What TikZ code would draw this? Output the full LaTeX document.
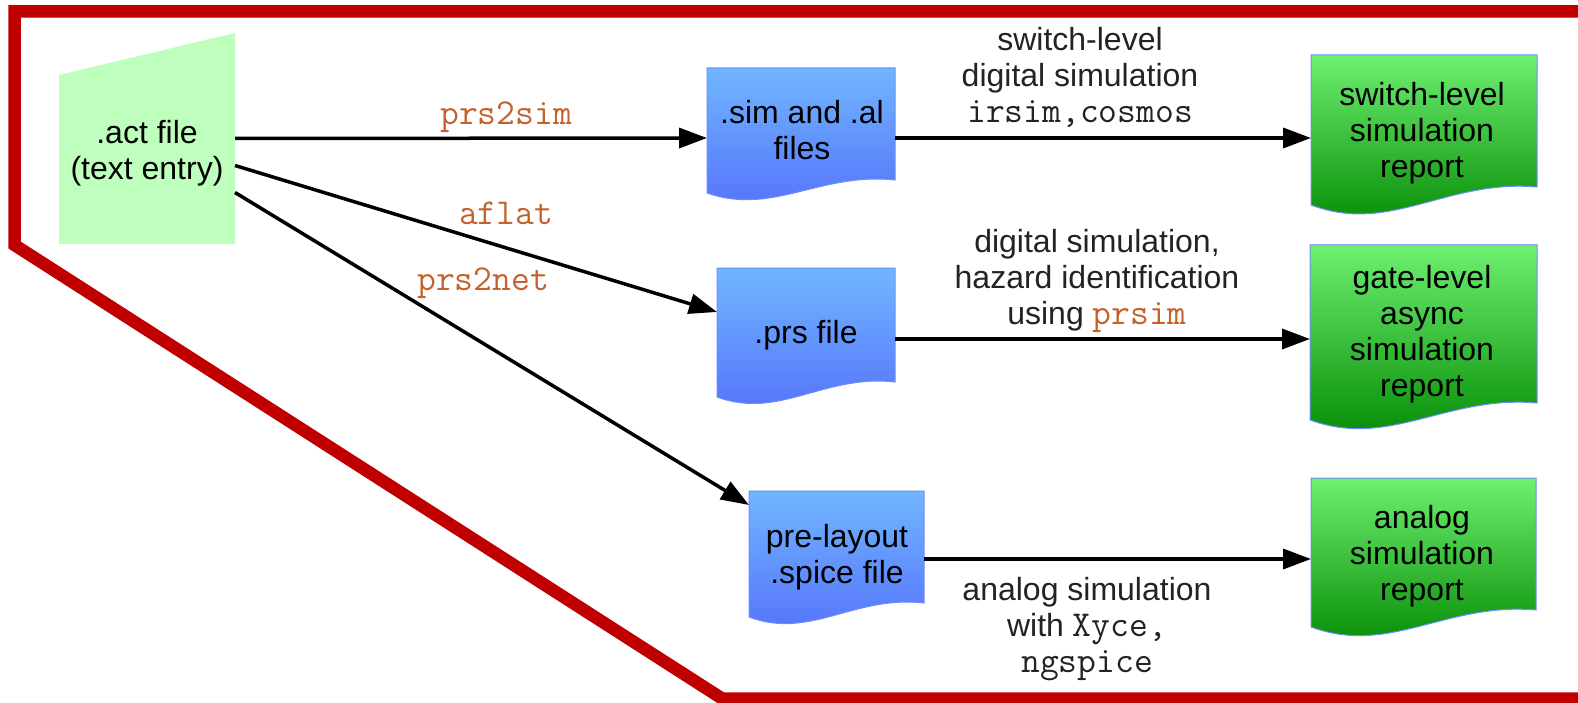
\documentclass[tikz,border=0pt]{standalone}
\usepackage{fontspec}
\setmainfont{Liberation Sans}
\usetikzlibrary{arrows.meta}

\definecolor{frame}{RGB}{192,0,0}
\definecolor{actfill}{RGB}{190,255,190}
\definecolor{bluetop}{RGB}{112,182,255}
\definecolor{bluebot}{RGB}{84,112,250}
\definecolor{greentop}{RGB}{110,240,112}
\definecolor{greenbot}{RGB}{0,134,0}
\definecolor{edgeblue}{RGB}{110,140,255}
\definecolor{tool}{RGB}{196,98,45}
\definecolor{note}{RGB}{35,35,35}

% program names in a typewriter face
\newcommand\code[1]{{\fontsize{36.5}{36}\selectfont\ttfamily #1}}

% document shape: left, top, right, right end of the wavy bottom,
% drop of its left end, depth of the wave, style
\newcommand\docshape[7]{%
  \path[#7] (#1,#2) -- (#3,#2) -- (#3,#4)
    .. controls ({#1+0.6*(#3-#1)},{#4-8}) and ({#1+0.35*(#3-#1)},{#4+#6})
    .. (#1,{#4+#5}) -- cycle;}

% text nodes are placed by the baseline of their last line
\tikzset{
  holder/.style={rectangle, draw=none, inner sep=0pt, outer sep=0pt},
  flow/.style={line width=3.5pt, -{Triangle[length=28pt,width=20pt]}},
  boxtext/.style={font=\fontsize{32}{36}\selectfont, align=center, anchor=base,
    text=black, inner sep=0pt},
  notetext/.style={boxtext, text=note},
  tooltext/.style={font=\fontsize{36.5}{36}\selectfont\ttfamily, text=tool,
    anchor=base, inner sep=0pt},
  bluedoc/.style={top color=bluetop, bottom color=bluebot, draw=edgeblue, line width=1pt},
  greendoc/.style={top color=greentop, bottom color=greenbot, draw=edgeblue, line width=1pt},
}

\begin{document}
\begin{tikzpicture}[x=1pt, y=-1pt]
\useasboundingbox (0,0) rectangle (1578,703);

% red frame, open on the right
\draw[frame, line width=12.5pt, line join=miter]
  (1600,11.5) -- (14.5,11.5) -- (14.5,245) -- (722,698.5) -- (1600,698.5);

% source file
\fill[actfill] (59,75) -- (235,33) -- (235,244) -- (59,244) -- cycle;
\node[holder, minimum width=176pt, minimum height=211pt] (act) at (147,138.5) {};

% generated files
\docshape{707}{68}{895}{180}{13}{36}{bluedoc}
\docshape{717}{268}{895}{382}{15}{38}{bluedoc}
\docshape{749}{491}{924}{603}{14}{37}{bluedoc}
\node[holder, minimum width=188pt, minimum height=140pt] (sim) at (801,138) {};
\node[holder, minimum width=178pt, minimum height=142pt] (prs) at (806,339) {};
\node[holder, minimum width=175pt, minimum height=136pt] (spice) at (836.5,559) {};

% reports
\docshape{1311}{55}{1537}{187}{18}{48}{greendoc}
\docshape{1310}{245}{1537}{403}{17}{46}{greendoc}
\docshape{1311}{478}{1536}{610}{17}{46}{greendoc}
\node[holder, minimum width=226pt, minimum height=166pt] (switch) at (1424,138) {};
\node[holder, minimum width=227pt, minimum height=188pt] (gate) at (1423.5,339) {};
\node[holder, minimum width=225pt, minimum height=162pt] (analog) at (1423.5,559) {};

% connectors
\draw[flow] (act.east) -- (sim.west);
\draw[flow] ([yshift=-27pt]act.east) -- ([yshift=27pt]prs.west);
\draw[flow] ([yshift=-54pt]act.east) -- ([yshift=-14pt]spice.north west);
\draw[flow] (sim.east) -- (switch.west);
\draw[flow] (prs.east) -- (gate.west);
\draw[flow] (spice.east) -- (analog.west);

% box texts
\node[boxtext] (act-text) at (147,180) {.act file\\(text entry)};
\node[boxtext] (sim-text) at (802,160) {.sim and .al\\files};
\node[boxtext] (prs-text) at (806,343) {.prs file};
\node[boxtext] (spice-text) at (837,583) {pre-layout\\.spice file};
\node[boxtext] (switch-text) at (1422,178) {switch-level\\simulation\\report};
\node[boxtext] (gate-text) at (1422,396) {gate-level\\async\\simulation\\report};
\node[boxtext] (analog-text) at (1422,600) {analog\\simulation\\report};

% tool names on the connectors
\node[tooltext] (prs2sim) at (506,125) {prs2sim};
\node[tooltext] (aflat) at (506,225) {aflat};
\node[tooltext] (prs2net) at (483,290) {prs2net};

% notes on the simulation steps
\node[notetext] (note-switch) at (1080,123)
  {switch-level\\digital simulation\\\code{irsim,cosmos}};
\node[notetext] (note-gate) at (1097,324)
  {digital simulation,\\hazard identification\\using \textcolor{tool}{\code{prsim}}};
\node[notetext] (note-analog) at (1087,672)
  {analog simulation\\with \code{Xyce,}\\\code{ngspice}};
\end{tikzpicture}
\end{document}
